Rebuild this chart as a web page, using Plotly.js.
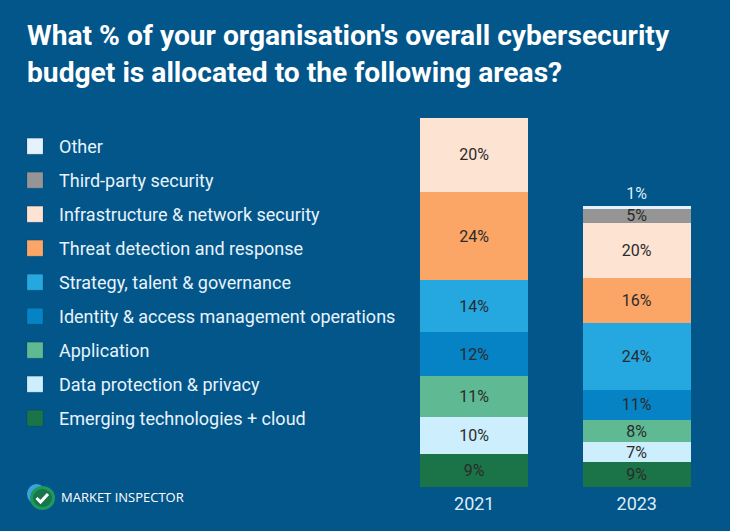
<!DOCTYPE html>
<html>
<head>
<meta charset="utf-8">
<script src="https://cdn.plot.ly/plotly-3.0.1.min.js"></script>
<style>
  html, body { margin: 0; padding: 0; background: #03568a; }
  #chart { width: 730px; height: 531px; }
</style>
</head>
<body>
<div id="chart"></div>
<script>
// ---- data (bottom of stack first) ----
const categories = [
  'Emerging technologies + cloud',
  'Data protection & privacy',
  'Application',
  'Identity & access management operations',
  'Strategy, talent & governance',
  'Threat detection and response',
  'Infrastructure & network security',
  'Third-party security',
  'Other'
];
const years = ['2021', '2023'];
const values2021 = [9, 10, 11, 12, 14, 24, 20, 0, 0];
const values2023 = [9, 7, 8, 11, 24, 16, 20, 5, 1];

// ---- styles ----
const colors = ['#1b7447', '#cdeefc', '#5fba93', '#0683c5', '#25a7e0',
                '#fba666', '#fde3d2', '#959595', '#e5f2fb'];
const bg = '#03568a';
const labelColor = '#2b2b2b';
const lightText = '#dcedf8';

const traces = [];

// legend entries (top to bottom: Other ... Emerging)
for (let i = categories.length - 1; i >= 0; i--) {
  traces.push({
    type: 'scatter', mode: 'markers',
    x: [null], y: [null],
    name: categories[i], legendgroup: 'g' + i,
    marker: { symbol: 'square', size: 16, color: colors[i],
              line: { width: 1, color: 'rgba(0,0,0,0.12)' } },
    hoverinfo: 'skip', showlegend: true
  });
}

function addBars(year, vals, axis) {
  vals.forEach((v, i) => {
    if (v <= 0) return;
    const isTop = vals.slice(i + 1).every(w => w <= 0);
    const small = v < 3;
    traces.push({
      type: 'bar',
      x: [year], y: [v],
      yaxis: axis,
      name: categories[i], legendgroup: 'g' + i, showlegend: false,
      width: 0.665,
      marker: { color: colors[i], line: { width: 0 } },
      text: [v + '%'],
      textposition: (small && isTop) ? 'outside' : 'inside',
      insidetextanchor: 'middle',
      textangle: 0,
      constraintext: 'none',
      cliponaxis: false,
      insidetextfont: { family: 'Roboto', size: 16, color: labelColor },
      outsidetextfont: { family: 'Roboto', size: 16, color: lightText },
      hovertemplate: year + '<br>' + categories[i] + ': %{y}%<extra></extra>'
    });
  });
}
addBars(years[0], values2021, 'y');
addBars(years[1], values2023, 'y2');

// pixel helpers for annotation placement relative to plot area
const M = { l: 393, r: 12, t: 118, b: 44 };
const PW = 730 - M.l - M.r, PH = 531 - M.t - M.b;
const px = x => (x - M.l) / PW;
const py = y => (531 - M.b - y) / PH;

const layout = {
  width: 730, height: 531,
  margin: M,
  paper_bgcolor: bg, plot_bgcolor: bg,
  barmode: 'stack',
  showlegend: true,
  title: {
    text: "What % of your organisation's overall cybersecurity<br>budget is allocated to the following areas?",
    font: { family: 'Roboto', size: 28.2, color: '#ffffff', weight: 'bold' },
    x: 27 / 730, xanchor: 'left', xref: 'container',
    y: 1 - 45 / 531, yanchor: 'top', yref: 'container'
  },
  xaxis: {
    type: 'category', categoryorder: 'array', categoryarray: years,
    range: [-0.5, 1.5], showgrid: false, zeroline: false, showline: false,
    ticks: '', ticklabelstandoff: 4,
    tickfont: { family: 'Roboto', size: 18, color: lightText },
    fixedrange: true
  },
  yaxis: { range: [0, 100], visible: false, fixedrange: true },
  yaxis2: { range: [0, 132.6], overlaying: 'y', visible: false, fixedrange: true },
  legend: {
    x: px(11), xanchor: 'left',
    y: py(128), yanchor: 'top',
    traceorder: 'grouped', tracegroupgap: 7.6,
    itemwidth: 38,
    font: { family: 'Roboto', size: 18, color: '#e8f3fb' },
    bgcolor: 'rgba(0,0,0,0)', itemclick: false, itemdoubleclick: false
  },
  annotations: [{
    text: 'MARKET INSPECTOR', showarrow: false,
    xref: 'paper', yref: 'paper', x: px(59), y: py(497),
    xanchor: 'left', yanchor: 'middle',
    font: { family: 'Open Sans', size: 13, color: '#ffffff' }
  }],
  shapes: [
    { type: 'circle', xref: 'paper', yref: 'paper', layer: 'above',
      x0: px(27), x1: px(46), y0: py(504), y1: py(484),
      fillcolor: '#3aa2de', line: { width: 0 } },
    { type: 'circle', xref: 'paper', yref: 'paper', layer: 'above',
      x0: px(30), x1: px(55), y0: py(510), y1: py(486),
      fillcolor: '#1f9a5b', line: { width: 0 } },
    { type: 'circle', xref: 'paper', yref: 'paper', layer: 'above',
      x0: px(33), x1: px(52), y0: py(507), y1: py(489),
      fillcolor: '#17764a', line: { width: 0 } },
    { type: 'path', xref: 'paper', yref: 'paper', layer: 'above',
      path: 'M' + px(36.5) + ',' + py(498) + ' L' + px(40.5) + ',' + py(502) +
            ' L' + px(48) + ',' + py(494),
      line: { color: '#ffffff', width: 3 } }
  ]
};

Plotly.newPlot('chart', traces, layout, { displayModeBar: false });
</script>
</body>
</html>
